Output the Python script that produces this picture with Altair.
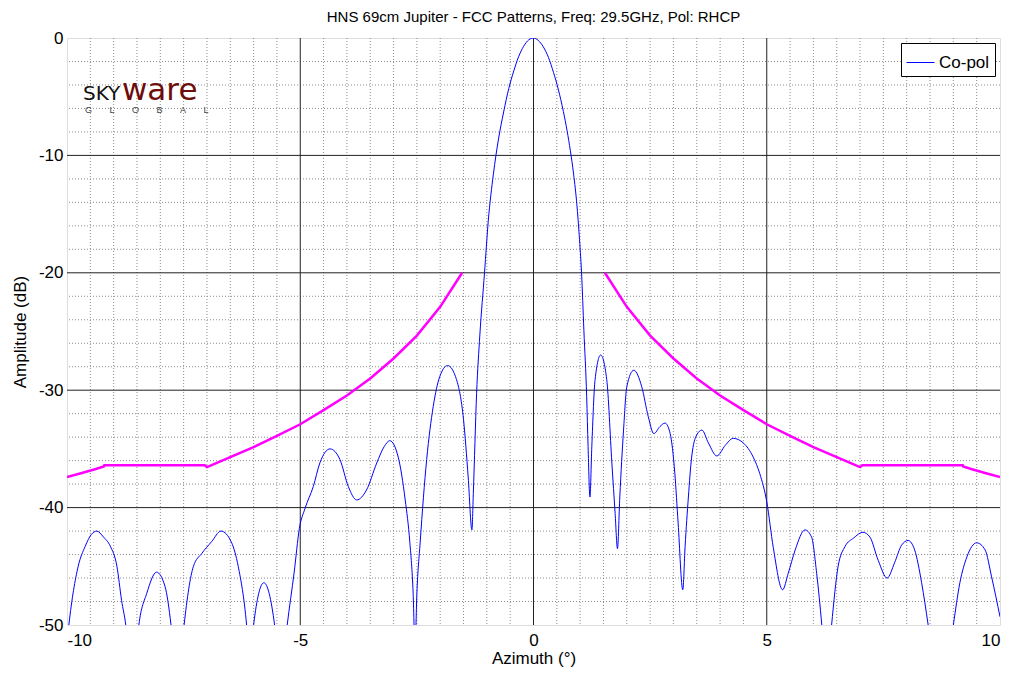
import altair as alt
import pandas as pd

# ---------------- data ----------------
az = [-10.0, -9.96, -9.76, -9.61, -9.48, -9.36, -9.22, -9.07, -8.93, -8.83, -8.74, -8.6, -8.46,
      -8.29, -8.08, -7.90, -7.77, -7.63, -7.49, -7.29, -7.11, -6.90, -6.70, -6.47, -6.33, -6.15,
      -6.07, -6.00, -5.78, -5.55, -5.42, -5.28, -5.13, -5.02, -4.90, -4.72, -4.58, -4.47, -4.36,
      -4.15, -3.97, -3.79, -3.58, -3.36, -3.20, -3.08, -2.90, -2.75, -2.65, -2.58, -2.54, -2.50,
      -2.43, -2.29, -2.15, -2.01, -1.84, -1.65, -1.50, -1.40, -1.32, -1.29, -1.22, -1.15, -1.05,
      -0.97, -0.86, -0.75, -0.64, -0.53, -0.43, -0.32, -0.21, -0.10, 0.0, 0.10, 0.21, 0.32, 0.43,
      0.53, 0.64, 0.72, 0.79, 0.86, 0.93, 0.98, 1.03, 1.08, 1.14, 1.17, 1.21, 1.25, 1.32, 1.44,
      1.57, 1.68, 1.75, 1.80, 1.85,
      1.93, 2.00, 2.15, 2.32, 2.46, 2.58, 2.71, 2.82, 2.93, 3.03, 3.10, 3.20, 3.25, 3.32, 3.39,
      3.50, 3.61, 3.75, 3.93, 4.11, 4.28, 4.50, 4.71, 4.85, 5.00, 5.14, 5.34, 5.46, 5.61, 5.82,
      5.96, 6.07, 6.18, 6.28, 6.39, 6.53, 6.68, 6.86, 7.06, 7.21, 7.39, 7.58, 7.74, 7.89, 8.03,
      8.17, 8.32, 8.46, 8.73, 9.00, 9.14, 9.29, 9.50, 9.68, 9.82, 10.0]
copol = [-51.5, -50.0, -45.0, -43.3, -42.3, -42.0, -42.5, -43.3, -45.0, -47.9, -50.0, -56.0, -50.0,
         -47.3, -45.5, -46.7, -50.0, -56.0, -50.0, -45.0, -43.9, -42.9, -42.0, -43.0, -45.0, -50.0,
         -54.0, -50.0, -46.4, -50.0, -55.0, -50.0, -45.5, -41.8, -40.1, -38.2, -36.2, -35.3, -35.0,
         -35.9, -38.2, -39.35, -38.5, -36.2, -34.8, -34.3, -35.7, -39.35, -43.0, -47.3, -52.0, -47.3,
         -43.0, -35.9, -31.4, -28.85, -27.9, -29.1, -32.5, -37.4, -41.9, -38.8, -30.3, -25.3, -20.0,
         -15.6, -11.6, -8.6, -6.3, -4.3, -2.9, -1.6, -0.7, -0.15, 0.0, -0.2, -0.75, -1.65, -2.95,
         -4.35, -6.25, -7.9, -9.6, -11.6, -14.2, -16.8, -20.0, -24.9, -30.55, -34.8, -39.1, -34.8, -29.1, -27.0,
         -29.1, -36.2, -40.5, -43.5, -39.1,
         -33.4, -29.7, -28.3, -29.7, -32.25, -33.7, -33.1, -32.8, -33.7, -37.1, -41.3, -47.0, -43.3, -39.1, -35.7,
         -33.8, -33.4, -34.5, -35.6, -34.7, -34.1, -34.5, -35.7, -37.1, -39.5, -43.4, -47.0, -45.6, -43.6, -41.9,
         -42.5, -45.6, -50.0, -55.0, -50.0, -45.0, -43.3, -42.6, -42.1, -42.5, -44.5, -46.0, -44.7, -43.2, -42.8,
         -43.6, -46.4, -50.0, -58.0, -50.0, -46.4, -44.2, -43.0, -43.6, -45.9, -49.3]

mask_az_right = [1.53, 2.0, 2.5, 3.0, 3.5, 4.0, 4.5, 5.0, 5.5, 6.0, 6.5, 7.0, 7.05, 9.2, 9.21, 9.4, 9.7, 10.0]
mask_amp = [-20.0, -22.9, -25.35, -27.3, -29.0, -30.45, -31.7, -32.9, -33.9, -34.85, -35.7, -36.55,
            -36.4, -36.4, -36.5, -36.73, -37.07, -37.4]

x_ticks = [-10, -5, 0, 5, 10]
y_ticks = [0, -10, -20, -30, -40, -50]
x_major = [-5, 0, 5]
y_major = [-10, -20, -30, -40]
x_minor = [v / 2 for v in range(-19, 20) if v % 10]
y_minor = [v for v in range(-48, 0, 2) if v % 10]

series_name = "Co-pol"
title_text = "HNS 69cm Jupiter - FCC Patterns, Freq: 29.5GHz, Pol: RHCP"

# ---------------- tables ----------------
df_line = pd.DataFrame({"az": az, "amp": copol, "series": series_name})
df_mask = pd.concat([
    pd.DataFrame({"az": [-a for a in mask_az_right], "amp": mask_amp, "side": "L"}),
    pd.DataFrame({"az": mask_az_right, "amp": mask_amp, "side": "R"}),
])
df_xminor = pd.DataFrame({"az": x_minor})
df_yminor = pd.DataFrame({"amp": y_minor})
df_xmajor = pd.DataFrame({"az": x_major})
df_ymajor = pd.DataFrame({"amp": y_major})

FONT = "Liberation Sans"

xscale = alt.Scale(domain=[-10, 10], nice=False, zero=False)
yscale = alt.Scale(domain=[-50, 0], nice=False, zero=False)
xaxis = alt.Axis(values=x_ticks, title="Azimuth (°)", grid=False, ticks=False, domain=False,
                 labelFontSize=17, titleFontSize=17, labelFont=FONT, titleFont=FONT,
                 labelColor="black", titleColor="black", labelPadding=7,
                 titleFontWeight="normal", labelExpr="toString(datum.value)",
                 titleY=33, titleBaseline="middle")
yaxis = alt.Axis(values=y_ticks, title="Amplitude (dB)", grid=False, ticks=False, domain=False,
                 labelFontSize=17, titleFontSize=17, labelFont=FONT, titleFont=FONT,
                 labelColor="black", titleColor="black", labelPadding=4,
                 titleFontWeight="normal", labelExpr="toString(datum.value)",
                 titleX=-47, titleY=293.5, titleBaseline="middle", titleAngle=-90)

X = alt.X("az:Q", scale=xscale, axis=xaxis)
Y = alt.Y("amp:Q", scale=yscale, axis=yaxis)

minor_x = alt.Chart(df_xminor).mark_rule(color="#8c8c8c", strokeWidth=1, strokeDash=[1, 2]).encode(x=X)
minor_y = alt.Chart(df_yminor).mark_rule(color="#8c8c8c", strokeWidth=1, strokeDash=[1, 2]).encode(y=Y)
major_x = alt.Chart(df_xmajor).mark_rule(color="#222222", strokeWidth=1).encode(x=X)
major_y = alt.Chart(df_ymajor).mark_rule(color="#222222", strokeWidth=1).encode(y=Y)

mask = alt.Chart(df_mask).mark_line(color="#ff00ff", strokeWidth=2.5, clip=True).encode(
    x=X, y=Y, detail="side:N", order="az:Q")

line = alt.Chart(df_line).mark_line(strokeWidth=1, clip=True, interpolate="monotone").encode(
    x=X, y=Y,
    color=alt.Color("series:N",
                    scale=alt.Scale(domain=[series_name], range=["#0000ff"]),
                    legend=alt.Legend(orient="top-right", title=None, offset=5,
                                      strokeColor="black", fillColor="white", padding=5,
                                      symbolType="stroke", symbolSize=784, symbolStrokeWidth=1,
                                      symbolStrokeColor="#4d4dff",
                                      labelFontSize=17, labelFont=FONT, labelColor="black",
                                      labelOffset=4)),
    order="az:Q")

# title and logo (drawn as text)
one = pd.DataFrame({"k": [0]})
title = alt.Chart(one).mark_text(text=title_text, font=FONT, fontSize=15, color="black",
                                 align="center", baseline="alphabetic").encode(
    x=alt.value(466.5), y=alt.value(-16))
sky = alt.Chart(one).mark_text(text="SKY", font="DejaVu Sans", fontSize=20, color="#111111",
                               align="left", baseline="alphabetic").encode(
    x=alt.value(16), y=alt.value(62))
ware = alt.Chart(one).mark_text(text="ware", font="DejaVu Sans", fontSize=31, color="#6e0b0b",
                                align="left", baseline="alphabetic").encode(
    x=alt.value(55), y=alt.value(62))
sp = "\u00a0" * 7
glob = alt.Chart(one).mark_text(text=sp.join("GLOBAL"),
                                font=FONT, fontSize=9, color="#444444",
                                align="left", baseline="alphabetic").encode(
    x=alt.value(18), y=alt.value(75))

chart = alt.layer(minor_x, minor_y, major_x, major_y, mask, line, title, sky, ware, glob).properties(
    width=933, height=587,
    padding={"left": 59, "top": 30, "right": 12, "bottom": 42},
    autosize=alt.AutoSizeParams(type="none"),
).configure_view(stroke="black", strokeWidth=1).configure(background="white")

chart.save("out.html", embed_options={"renderer": "svg", "actions": False})
